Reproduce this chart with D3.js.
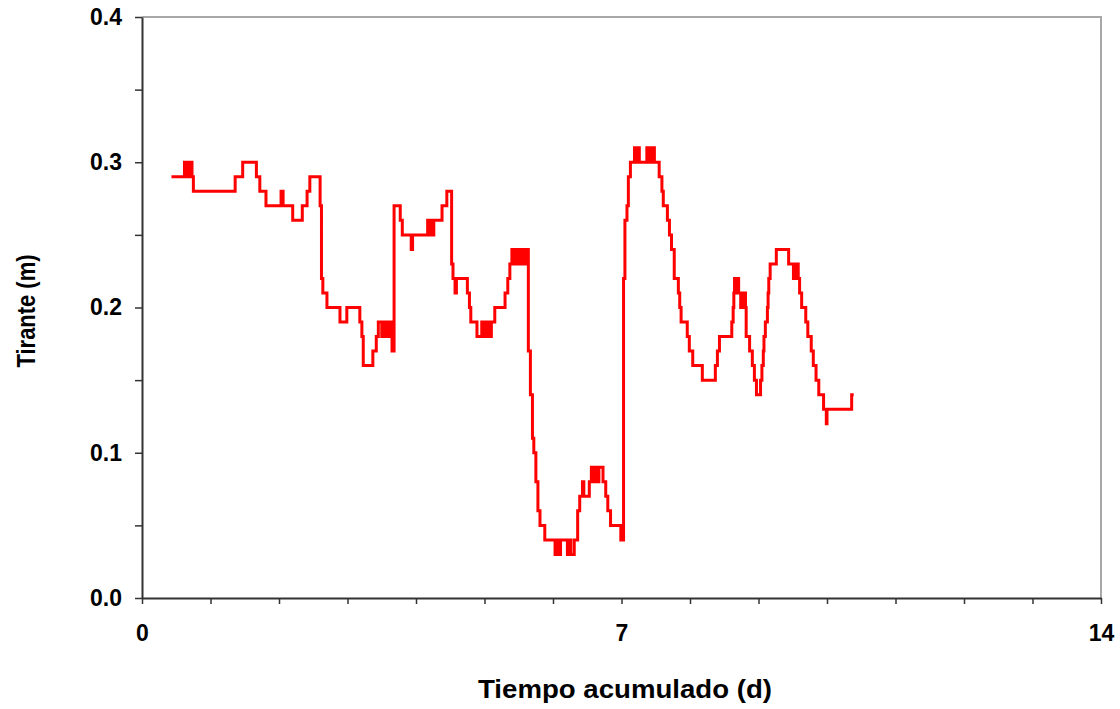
<!DOCTYPE html>
<html>
<head>
<meta charset="utf-8">
<script src="https://cdn.jsdelivr.net/npm/d3@7"></script>
<style>
  body { margin: 0; background: #fff; }
  text { font-family: "Liberation Sans", Arial, sans-serif; font-weight: bold; fill: #000; }
</style>
</head>
<body>
<div class="canvas"></div>
<script>
// step breakpoints: time (d) where the depth changes, and the depth from there on (m)
const tiempo = [
  0.43, 0.62, 0.65, 0.66, 0.69, 0.70, 0.73, 0.75, 1.36, 1.47, 1.67, 1.72, 1.81, 2.03, 2.06,
  2.20, 2.34, 2.41, 2.45, 2.60, 2.62, 2.64, 2.70, 2.89, 2.99, 3.18, 3.21, 3.23, 3.37, 3.42,
  3.45, 3.50, 3.52, 3.56, 3.58, 3.61, 3.63, 3.65, 3.68, 3.77, 3.80, 3.93, 3.95, 4.17, 4.19,
  4.21, 4.23, 4.26, 4.38, 4.45, 4.52, 4.54, 4.57, 4.59, 4.75, 4.78, 4.80, 4.89, 4.96, 4.98,
  5.01, 5.03, 5.06, 5.08, 5.10, 5.15, 5.30, 5.34, 5.37, 5.40, 5.43, 5.45, 5.48, 5.50, 5.53,
  5.56, 5.59, 5.61, 5.64, 5.67, 5.70, 5.72, 5.75, 5.78, 5.81, 5.88, 6.03, 6.05, 6.07, 6.11,
  6.21, 6.24, 6.26, 6.31, 6.36, 6.39, 6.43, 6.45, 6.53, 6.56, 6.60, 6.62, 6.65, 6.67, 6.73,
  6.77, 6.80, 6.84, 6.99, 7.03, 7.05, 7.08, 7.10, 7.13, 7.19, 7.20, 7.21, 7.23, 7.24, 7.26,
  7.37, 7.39, 7.40, 7.42, 7.43, 7.45, 7.46, 7.48, 7.55, 7.59, 7.61, 7.67, 7.70, 7.73, 7.77,
  7.83, 7.85, 7.87, 7.96, 7.99, 8.04, 8.18, 8.37, 8.40, 8.43, 8.61, 8.63, 8.64, 8.65, 8.67,
  8.68, 8.71, 8.74, 8.75, 8.77, 8.78, 8.81, 8.82, 8.87, 8.91, 8.94, 8.97, 9.03, 9.05, 9.07,
  9.08, 9.10, 9.13, 9.14, 9.15, 9.17, 9.26, 9.44, 9.51, 9.52, 9.54, 9.56, 9.58, 9.60, 9.63,
  9.69, 9.72, 9.77, 9.80, 9.84, 9.88, 9.95, 9.99, 10.00, 10.36, 10.39
];
const tirante = [
  0.29, 0.30, 0.29, 0.30, 0.29, 0.30, 0.29, 0.28, 0.29, 0.30, 0.29, 0.28, 0.27, 0.28, 0.27,
  0.26, 0.27, 0.28, 0.29, 0.27, 0.22, 0.21, 0.20, 0.19, 0.20, 0.19, 0.18, 0.16, 0.17, 0.18,
  0.19, 0.18, 0.19, 0.18, 0.19, 0.18, 0.19, 0.17, 0.27, 0.26, 0.25, 0.24, 0.25, 0.26, 0.25,
  0.26, 0.25, 0.26, 0.27, 0.28, 0.23, 0.22, 0.21, 0.22, 0.21, 0.20, 0.19, 0.18, 0.19, 0.18,
  0.19, 0.18, 0.19, 0.18, 0.19, 0.20, 0.21, 0.22, 0.23, 0.24, 0.23, 0.24, 0.23, 0.24, 0.23,
  0.24, 0.23, 0.24, 0.17, 0.14, 0.11, 0.10, 0.08, 0.06, 0.05, 0.04, 0.03, 0.04, 0.03, 0.04,
  0.03, 0.04, 0.03, 0.04, 0.06, 0.07, 0.08, 0.07, 0.08, 0.09, 0.08, 0.09, 0.08, 0.09, 0.08,
  0.07, 0.06, 0.05, 0.04, 0.22, 0.26, 0.27, 0.29, 0.30, 0.31, 0.30, 0.31, 0.30, 0.31, 0.30,
  0.31, 0.30, 0.31, 0.30, 0.31, 0.30, 0.31, 0.30, 0.29, 0.28, 0.27, 0.26, 0.25, 0.24, 0.22,
  0.21, 0.20, 0.19, 0.18, 0.17, 0.16, 0.15, 0.16, 0.17, 0.18, 0.19, 0.20, 0.21, 0.22, 0.21,
  0.22, 0.21, 0.20, 0.21, 0.20, 0.21, 0.20, 0.18, 0.17, 0.16, 0.15, 0.14, 0.15, 0.16, 0.17,
  0.18, 0.19, 0.20, 0.21, 0.22, 0.23, 0.24, 0.23, 0.22, 0.23, 0.22, 0.23, 0.22, 0.21, 0.20,
  0.19, 0.18, 0.17, 0.16, 0.15, 0.14, 0.13, 0.12, 0.13, 0.14, 0.14
];
const xTicks = d3.range(0, 15, 1);
const xLabels = [0, 7, 14];
const yTicks = d3.range(0, 0.401, 0.05);
const yLabels = [0, 0.1, 0.2, 0.3, 0.4];

const svgDims = { width: 1120, height: 709 };
const margin = { top: 17, right: 19, bottom: 111, left: 142 };
const graphWidth = svgDims.width - margin.left - margin.right;
const graphHeight = svgDims.height - margin.top - margin.bottom;

const svg = d3.select('.canvas')
    .append('svg')
    .attr('width', svgDims.width)
    .attr('height', svgDims.height);

const graph = svg.append('g')
    .attr('transform', `translate(${margin.left}, ${margin.top})`);

const x = d3.scaleLinear().domain([0, 14]).range([0, graphWidth]);
const y = d3.scaleLinear().domain([0, 0.4]).range([graphHeight, 0]);

// frame (top & right)
graph.append('path')
    .attr('d', `M0,0H${graphWidth}V${graphHeight}`)
    .attr('fill', 'none')
    .attr('stroke', '#a8a8a8')
    .attr('stroke-width', 2);

const xAxis = d3.axisBottom(x)
    .tickValues(xTicks)
    .tickSize(6)
    .tickSizeOuter(0)
    .tickFormat(d => xLabels.includes(d) ? d : '');
const yAxis = d3.axisLeft(y)
    .tickValues(yTicks)
    .tickSize(7)
    .tickSizeOuter(0)
    .tickFormat(d => yLabels.some(v => Math.abs(v - d) < 1e-9) ? d3.format('.1f')(d) : '');

const xAxisGroup = graph.append('g')
    .attr('transform', `translate(0, ${graphHeight})`)
    .call(xAxis);
const yAxisGroup = graph.append('g')
    .call(yAxis);

[xAxisGroup, yAxisGroup].forEach(g => {
    g.attr('font-family', null).attr('font-size', null);
    g.select('.domain').attr('stroke', '#333').attr('stroke-width', 2);
    g.selectAll('.tick line').attr('stroke', '#333').attr('stroke-width', 1.5);
    g.selectAll('.tick text').style('font-size', '23px');
});
xAxisGroup.selectAll('.tick text').attr('dy', 0).attr('y', 43);
yAxisGroup.selectAll('.tick text').attr('x', -20);

const data = tiempo.map((t, i) => ({ t, v: tirante[i] }));

const line = d3.line()
    .x(d => x(d.t))
    .y(d => y(d.v))
    .curve(d3.curveStepAfter);

graph.append('path')
    .datum(data)
    .attr('fill', 'none')
    .attr('stroke', '#ff0000')
    .attr('stroke-width', 3)
    .attr('d', line);

// axis titles
svg.append('text')
    .attr('x', 625)
    .attr('y', 698)
    .attr('text-anchor', 'middle')
    .attr('textLength', 294)
    .attr('lengthAdjust', 'spacingAndGlyphs')
    .style('font-size', '26px')
    .text('Tiempo acumulado (d)');

svg.append('text')
    .attr('transform', `translate(35, 311) rotate(-90)`)
    .attr('text-anchor', 'middle')
    .attr('textLength', 113)
    .attr('lengthAdjust', 'spacingAndGlyphs')
    .style('font-size', '25px')
    .text('Tirante (m)');
</script>
</body>
</html>
